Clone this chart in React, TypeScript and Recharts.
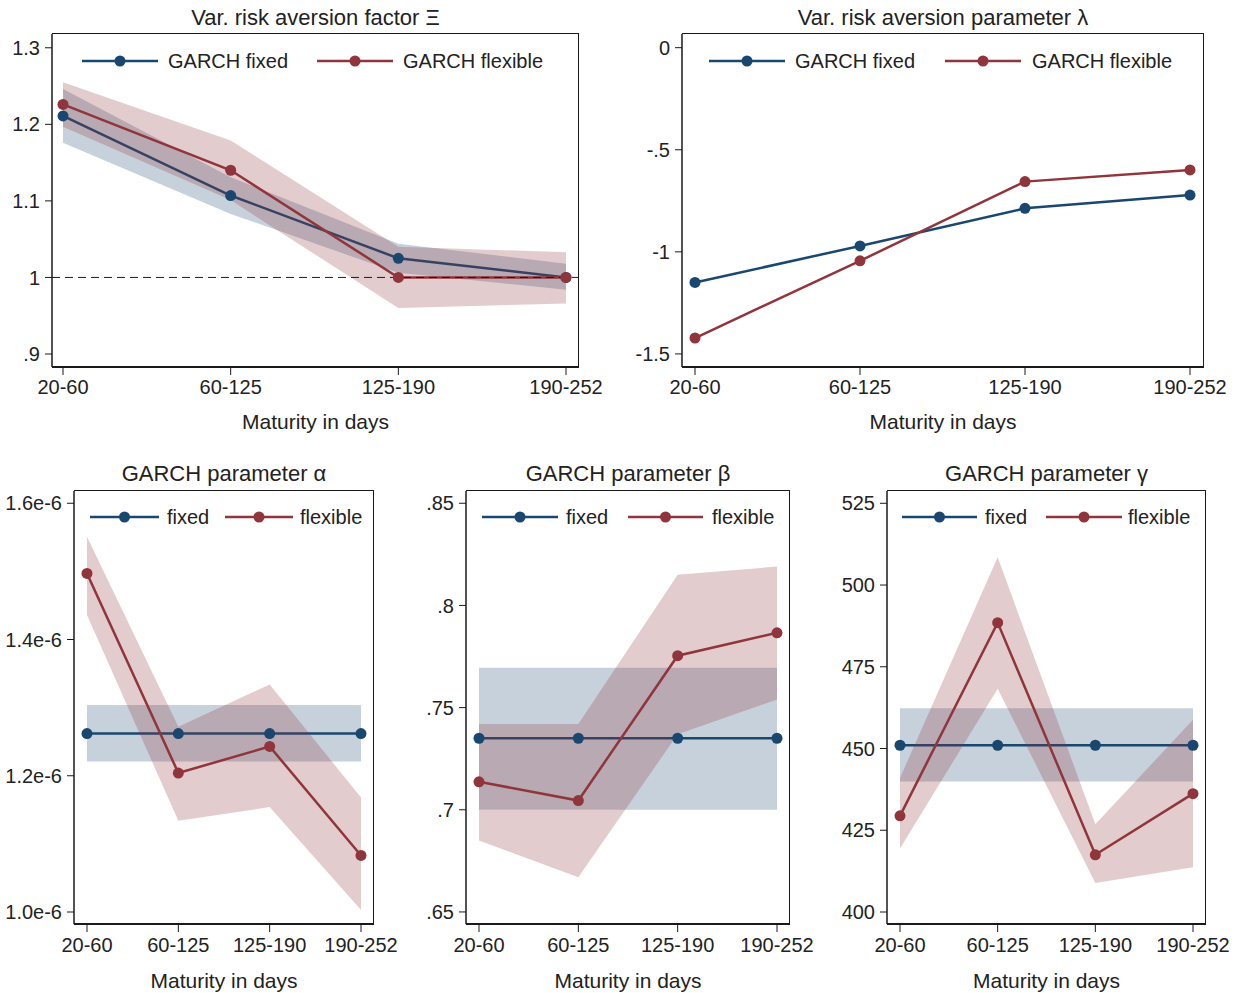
import { ComposedChart, Line, Area, XAxis, YAxis, ReferenceLine } from 'recharts';

const NAVY = '#1a476f';
const MAROON = '#90353b';
const INK = '#222';
const FRAME = '#1a1a1a';
const FONT = '"Liberation Sans", Arial, Helvetica, sans-serif';
const X_AXIS_H = 30;

const maturities = ['20-60', '60-125', '125-190', '190-252'];

// variance risk aversion factor (Xi), point estimates and confidence bounds
const xiFixed = [1.211, 1.107, 1.025, 1.0];
const xiFixedLo = [1.176, 1.083, 1.006, 0.984];
const xiFixedHi = [1.246, 1.131, 1.044, 1.018];
const xiFlex = [1.226, 1.14, 1.0, 1.0];
const xiFlexLo = [1.197, 1.101, 0.96, 0.966];
const xiFlexHi = [1.255, 1.179, 1.04, 1.033];

// variance risk aversion parameter (lambda)
const lambdaFixed = [-1.15, -0.971, -0.787, -0.722];
const lambdaFlex = [-1.422, -1.044, -0.656, -0.599];

// GARCH alpha
const alphaFixed = [1.262e-6, 1.262e-6, 1.262e-6, 1.262e-6];
const alphaFixedLo = [1.221e-6, 1.221e-6, 1.221e-6, 1.221e-6];
const alphaFixedHi = [1.304e-6, 1.304e-6, 1.304e-6, 1.304e-6];
const alphaFlex = [1.497e-6, 1.204e-6, 1.243e-6, 1.083e-6];
const alphaFlexLo = [1.436e-6, 1.134e-6, 1.154e-6, 1.003e-6];
const alphaFlexHi = [1.551e-6, 1.272e-6, 1.334e-6, 1.168e-6];

// GARCH beta
const betaFixed = [0.735, 0.735, 0.735, 0.735];
const betaFixedLo = [0.7, 0.7, 0.7, 0.7];
const betaFixedHi = [0.7695, 0.7695, 0.7695, 0.7695];
const betaFlex = [0.7137, 0.7045, 0.7754, 0.7866];
const betaFlexLo = [0.685, 0.667, 0.737, 0.754];
const betaFlexHi = [0.742, 0.742, 0.815, 0.819];

// GARCH gamma
const gammaFixed = [451, 451, 451, 451];
const gammaFixedLo = [439.9, 439.9, 439.9, 439.9];
const gammaFixedHi = [462.3, 462.3, 462.3, 462.3];
const gammaFlex = [429.4, 488.5, 417.5, 436.2];
const gammaFlexLo = [419.4, 468.3, 408.9, 413.7];
const gammaFlexHi = [441, 508.5, 426.8, 458.8];

const xiTicks = [0.9, 1, 1.1, 1.2, 1.3];
const lambdaTicks = [-1.5, -1, -0.5, 0];
const alphaTicks = [1.0e-6, 1.2e-6, 1.4e-6, 1.6e-6];
const betaTicks = [0.65, 0.7, 0.75, 0.8, 0.85];
const gammaTicks = [400, 425, 450, 475, 500, 525];

// Stata-like number labels: 0.9 -> ".9", -0.5 -> "-.5"
const stataNum = (v: number) => String(+v.toFixed(4)).replace(/^(-?)0\./, '$1.');
const sciNum = (v: number) => v.toExponential(1);

function buildRows(fixed: number[], flex: number[], fixedLo?: number[], fixedHi?: number[], flexLo?: number[], flexHi?: number[]) {
  return maturities.map((m, i) => ({
    m,
    fixed: fixed[i],
    flex: flex[i],
    fixedBand: fixedLo && fixedHi ? [fixedLo[i], fixedHi[i]] : undefined,
    flexBand: flexLo && flexHi ? [flexLo[i], flexHi[i]] : undefined,
  }));
}

type LegendItem = { x1: number; x2: number; tx: number };

type PanelProps = {
  left: number;
  top: number;
  width: number;
  height: number;
  yWidth: number;
  margin: { top: number; right: number; bottom: number; left: number };
  pad: { left: number; right: number };
  domain: [number, number];
  ticks: number[];
  fmt: (v: number) => string;
  title: string;
  titleTop: number;
  xTitleTop: number;
  tickGap: number;
  rows: any[];
  bands: boolean;
  labels: [string, string];
  legendY: number;
  legend: [LegendItem, LegendItem];
  refY?: number;
};

function LegendKey({ item, y, color, label }: { item: LegendItem; y: number; color: string; label: string }) {
  const w = item.x2 - item.x1;
  return (
    <>
      <svg style={{ position: 'absolute', left: item.x1, top: y - 8, overflow: 'visible' }} width={w} height={16}>
        <line x1={0} x2={w} y1={8} y2={8} stroke={color} strokeWidth={2.5} />
        <circle cx={w / 2} cy={8} r={5.5} fill={color} />
      </svg>
      <div style={{ position: 'absolute', left: item.tx, top: y - 11, fontSize: 20, lineHeight: '22px', color: INK, whiteSpace: 'nowrap' }}>
        {label}
      </div>
    </>
  );
}

function Panel(p: PanelProps) {
  const plotLeft = p.left + p.margin.left + p.yWidth;
  const plotRight = p.left + p.width - p.margin.right;
  const plotTop = p.top + p.margin.top;
  const plotBottom = p.top + p.height - p.margin.bottom - X_AXIS_H;
  const center = { position: 'absolute' as const, left: plotLeft - 100, width: plotRight - plotLeft + 200, textAlign: 'center' as const };
  const dot = (c: string) => ({ r: 5.5, fill: c, stroke: c, strokeWidth: 0 });

  return (
    <>
      <div style={{ ...center, top: p.titleTop, fontSize: 22, lineHeight: '22px', color: INK }}>{p.title}</div>
      <div style={{ position: 'absolute', left: p.left, top: p.top }}>
        <ComposedChart width={p.width} height={p.height} data={p.rows} margin={p.margin}>
          <XAxis
            dataKey="m"
            type="category"
            padding={p.pad}
            height={X_AXIS_H}
            interval={0}
            tickSize={8}
            tickMargin={p.tickGap}
            axisLine={{ stroke: FRAME, strokeWidth: 2 }}
            tickLine={{ stroke: FRAME }}
            tick={{ fill: INK, fontSize: 20, fontFamily: FONT }}
          />
          <YAxis
            type="number"
            domain={p.domain}
            ticks={p.ticks}
            allowDataOverflow
            width={p.yWidth}
            tickSize={7}
            tickMargin={5}
            tickFormatter={p.fmt}
            axisLine={{ stroke: FRAME, strokeWidth: 1.5 }}
            tickLine={{ stroke: FRAME }}
            tick={{ fill: INK, fontSize: 20, fontFamily: FONT }}
          />
          {p.refY !== undefined && (
            <ReferenceLine y={p.refY} stroke={FRAME} strokeWidth={1} strokeDasharray="8 5" />
          )}
          {p.bands && (
            <Area type="linear" dataKey="fixedBand" stroke="none" fill={NAVY} fillOpacity={0.25} isAnimationActive={false} activeDot={false} zIndex={100} />
          )}
          <Line type="linear" dataKey="fixed" stroke={NAVY} strokeWidth={2.5} dot={dot(NAVY)} activeDot={false} isAnimationActive={false} zIndex={101} />
          {p.bands && (
            <Area type="linear" dataKey="flexBand" stroke="none" fill={MAROON} fillOpacity={0.25} isAnimationActive={false} activeDot={false} zIndex={102} />
          )}
          <Line type="linear" dataKey="flex" stroke={MAROON} strokeWidth={2.5} dot={dot(MAROON)} activeDot={false} isAnimationActive={false} zIndex={103} />
        </ComposedChart>
      </div>
      {/* top and right edges of the plot region box */}
      <div
        style={{
          position: 'absolute',
          left: plotLeft,
          top: plotTop - 0.75,
          width: plotRight - plotLeft - 0.75,
          height: plotBottom - plotTop,
          borderTop: `1.5px solid ${FRAME}`,
          borderRight: `1.5px solid ${FRAME}`,
          pointerEvents: 'none',
        }}
      />
      <LegendKey item={p.legend[0]} y={p.legendY} color={NAVY} label={p.labels[0]} />
      <LegendKey item={p.legend[1]} y={p.legendY} color={MAROON} label={p.labels[1]} />
      <div style={{ ...center, top: p.xTitleTop, fontSize: 21, lineHeight: '21px', color: INK }}>Maturity in days</div>
    </>
  );
}

export default function App() {
  const topRow = { top: 0, height: 410, titleTop: 6.8, xTitleTop: 410.8, tickGap: 5, legendY: 60.7 };
  const bottomRow = { top: 440, height: 520, titleTop: 463, xTitleTop: 969.8, tickGap: 6, legendY: 517 };
  const garchLabels: [string, string] = ['fixed', 'flexible'];
  const longLabels: [string, string] = ['GARCH fixed', 'GARCH flexible'];

  return (
    <div style={{ position: 'absolute', left: 0, top: 0, width: 1239, height: 993, background: '#fff', fontFamily: FONT, overflow: 'hidden' }}>
      <Panel
        {...topRow}
        left={0}
        width={620}
        yWidth={52}
        margin={{ top: 34, right: 41, bottom: 13, left: 0 }}
        pad={{ left: 11, right: 13 }}
        domain={[0.883, 1.318]}
        ticks={xiTicks}
        fmt={stataNum}
        title="Var. risk aversion factor Ξ"
        rows={buildRows(xiFixed, xiFlex, xiFixedLo, xiFixedHi, xiFlexLo, xiFlexHi)}
        bands
        refY={1}
        labels={longLabels}
        legend={[{ x1: 82, x2: 158, tx: 168 }, { x1: 317, x2: 393, tx: 403 }]}
      />
      <Panel
        {...topRow}
        left={620}
        width={619}
        yWidth={62}
        margin={{ top: 34, right: 35, bottom: 13, left: 0 }}
        pad={{ left: 13, right: 14 }}
        domain={[-1.564, 0.067]}
        ticks={lambdaTicks}
        fmt={stataNum}
        title="Var. risk aversion parameter λ"
        rows={buildRows(lambdaFixed, lambdaFlex)}
        bands={false}
        labels={longLabels}
        legend={[{ x1: 709, x2: 785, tx: 795 }, { x1: 945, x2: 1021, tx: 1032 }]}
      />
      <Panel
        {...bottomRow}
        left={0}
        width={410}
        yWidth={74}
        margin={{ top: 51, right: 36, bottom: 6, left: 0 }}
        pad={{ left: 13, right: 13 }}
        domain={[0.9824e-6, 1.618e-6]}
        ticks={alphaTicks}
        fmt={sciNum}
        title="GARCH parameter α"
        rows={buildRows(alphaFixed, alphaFlex, alphaFixedLo, alphaFixedHi, alphaFlexLo, alphaFlexHi)}
        bands
        labels={garchLabels}
        legend={[{ x1: 90, x2: 159, tx: 167 }, { x1: 225, x2: 293, tx: 300 }]}
      />
      <Panel
        {...bottomRow}
        left={410}
        width={410}
        yWidth={56}
        margin={{ top: 51, right: 30, bottom: 6, left: 0 }}
        pad={{ left: 13, right: 13 }}
        domain={[0.6441, 0.856]}
        ticks={betaTicks}
        fmt={stataNum}
        title="GARCH parameter β"
        rows={buildRows(betaFixed, betaFlex, betaFixedLo, betaFixedHi, betaFlexLo, betaFlexHi)}
        bands
        labels={garchLabels}
        legend={[{ x1: 482, x2: 558, tx: 566 }, { x1: 628, x2: 703, tx: 712 }]}
      />
      <Panel
        {...bottomRow}
        left={820}
        width={419}
        yWidth={67}
        margin={{ top: 51, right: 33, bottom: 6, left: 0 }}
        pad={{ left: 13, right: 13 }}
        domain={[396.33, 528.76]}
        ticks={gammaTicks}
        fmt={stataNum}
        title="GARCH parameter γ"
        rows={buildRows(gammaFixed, gammaFlex, gammaFixedLo, gammaFixedHi, gammaFlexLo, gammaFlexHi)}
        bands
        labels={garchLabels}
        legend={[{ x1: 902, x2: 977, tx: 985 }, { x1: 1046, x2: 1122, tx: 1128 }]}
      />
    </div>
  );
}
